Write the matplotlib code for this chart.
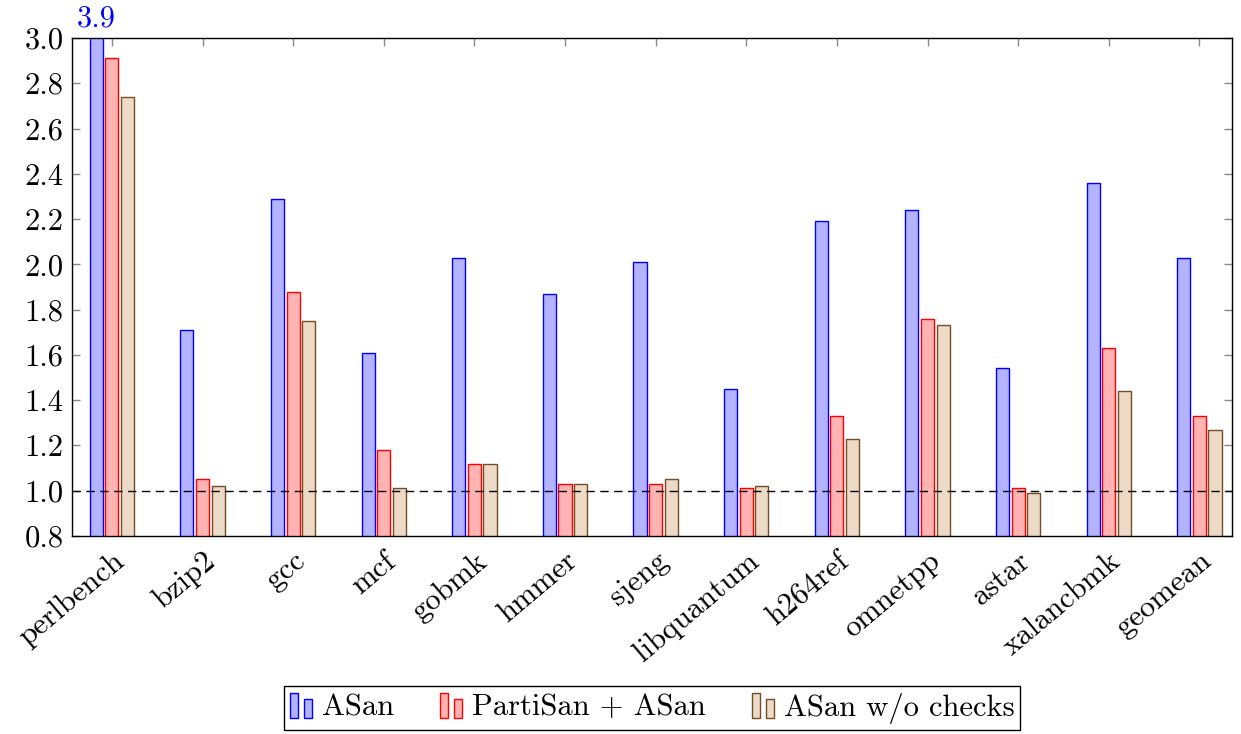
import matplotlib
matplotlib.use("Agg")
import matplotlib.pyplot as plt
import numpy as np
from matplotlib.patches import Rectangle
from matplotlib.legend_handler import HandlerBase

plt.rcParams['font.family'] = ['cmr10', 'DejaVu Serif']
plt.rcParams['axes.formatter.use_mathtext'] = True

categories = ["perlbench", "bzip2", "gcc", "mcf", "gobmk", "hmmer", "sjeng",
              "libquantum", "h264ref", "omnetpp", "astar", "xalancbmk", "geomean"]
asan = [3.9, 1.71, 2.29, 1.61, 2.03, 1.87, 2.01, 1.45, 2.19, 2.24, 1.54, 2.36, 2.03]
partisan = [2.91, 1.05, 1.88, 1.18, 1.12, 1.03, 1.03, 1.01, 1.33, 1.76, 1.01, 1.63, 1.33]
nochecks = [2.74, 1.02, 1.75, 1.01, 1.12, 1.03, 1.05, 1.02, 1.23, 1.73, 0.99, 1.44, 1.27]
series_names = ["ASan", "PartiSan + ASan", "ASan w/o checks"]
yticks = [0.8, 1.0, 1.2, 1.4, 1.6, 1.8, 2.0, 2.2, 2.4, 2.6, 2.8, 3.0]

fills = ["#b3b3ff", "#ffb3b3", "#ecd9c6"]
edges = ["#0000ff", "#ff0000", "#734d26"]
FS = 22

fig = plt.figure(figsize=(12.41, 7.34), dpi=100)
ax = fig.add_axes([72/1241, 1-536/734, (1232-72)/1241, (536-38)/734])

x = np.arange(len(categories))
w = 0.145
off = 0.173
for i, vals in enumerate([asan, partisan, nochecks]):
    ax.bar(x + (i-1)*off, vals, width=w, bottom=0, color=fills[i], edgecolor=edges[i],
           linewidth=1.0, zorder=2)

ax.axhline(1.0, color='black', linestyle=(0, (6, 4)), linewidth=1.0, zorder=3)

ax.set_ylim(0.8, 3.0)
ax.set_xlim(-0.44, 12.36)
ax.set_yticks(yticks)
ax.set_yticklabels([f"{v:.1f}" for v in yticks])
ax.set_xticks(x)
ax.set_xticklabels(categories, rotation=40, ha='right', rotation_mode='anchor')
ax.tick_params(axis='both', direction='in', length=6, color='#888888', labelsize=FS,
               top=True, right=True, width=1)
ax.tick_params(axis='x', pad=8)
ax.tick_params(axis='y', pad=6)
for s in ax.spines.values():
    s.set_linewidth(1.0)
    s.set_color('black')

ax.text(x[0] - off, 3.0 + 0.025, "3.9", color='#0000ff', fontsize=FS,
        ha='center', va='bottom', clip_on=False)


class TwoBarHandler(HandlerBase):
    def __init__(self, fc, ec):
        super().__init__()
        self.fc = fc
        self.ec = ec

    def create_artists(self, legend, orig_handle, xdescent, ydescent, width, height,
                       fontsize, trans):
        bw = width * 0.32
        r1 = Rectangle((-xdescent, -ydescent - height*0.1), bw, height*1.15,
                       facecolor=self.fc, edgecolor=self.ec, lw=1.0, transform=trans)
        r2 = Rectangle((-xdescent + width*0.55, -ydescent - height*0.1), bw, height*0.88,
                       facecolor=self.fc, edgecolor=self.ec, lw=1.0, transform=trans)
        return [r1, r2]


handles = [Rectangle((0, 0), 1, 1) for _ in range(3)]
hmap = {handles[i]: TwoBarHandler(fills[i], edges[i]) for i in range(3)}
leg = fig.legend(handles, series_names, handler_map=hmap, loc='center',
                 bbox_to_anchor=(652/1241, 1-708/734), ncol=3, fontsize=FS,
                 frameon=True, fancybox=False, edgecolor='black', framealpha=1,
                 handlelength=0.85, handletextpad=0.2, columnspacing=1.5,
                 borderpad=0.2, handleheight=0.7)
leg.get_frame().set_linewidth(1.0)

fig.savefig("out.png", dpi=100)
